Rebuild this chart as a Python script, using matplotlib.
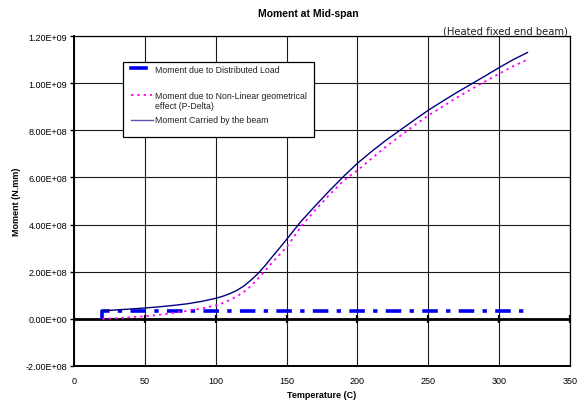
import numpy as np
import matplotlib
matplotlib.use("Agg")
import matplotlib.pyplot as plt
from matplotlib.lines import Line2D
from matplotlib.patches import Rectangle
from matplotlib.ticker import FuncFormatter, MultipleLocator

plt.rcParams['font.family'] = ['Liberation Sans', 'DejaVu Sans']

# Temperature steps (C)
temperature = [20, 30, 40, 50, 60, 70, 80, 90, 100, 105, 110, 115, 120, 125,
               130, 135, 140, 145, 150, 160, 170, 180, 190, 200, 210, 220,
               230, 240, 250, 260, 270, 280, 290, 300, 310, 320]

# Moment carried by the beam (N.mm)
moment_carried = [0.34e8, 0.38e8, 0.42e8, 0.46e8, 0.51e8, 0.57e8, 0.64e8,
                  0.74e8, 0.87e8, 0.96e8, 1.07e8, 1.21e8, 1.40e8, 1.65e8,
                  1.93e8, 2.27e8, 2.64e8, 3.00e8, 3.37e8, 4.12e8, 4.78e8,
                  5.42e8, 6.03e8, 6.60e8, 7.10e8, 7.57e8, 8.00e8, 8.43e8,
                  8.85e8, 9.23e8, 9.60e8, 9.95e8, 10.30e8, 10.66e8, 11.00e8,
                  11.30e8]

# P-Delta moment (N.mm)
moment_pdelta = [0.0, 0.03e8, 0.07e8, 0.11e8, 0.17e8, 0.25e8, 0.34e8,
                 0.44e8, 0.57e8, 0.67e8, 0.80e8, 0.96e8, 1.15e8, 1.40e8,
                 1.72e8, 2.05e8, 2.40e8, 2.72e8, 3.04e8, 3.90e8, 4.60e8,
                 5.25e8, 5.85e8, 6.30e8, 6.80e8, 7.30e8, 7.75e8, 8.20e8,
                 8.63e8, 9.00e8, 9.38e8, 9.73e8, 10.07e8, 10.40e8, 10.72e8,
                 11.00e8]

# Moment due to distributed load (constant once loaded)
load_temperature = [20, 20, 320]
moment_load = [0.0, 0.33e8, 0.33e8]

x_ticks = [0, 50, 100, 150, 200, 250, 300, 350]

W, H = 580, 406
fig = plt.figure(figsize=(W / 100, H / 100), dpi=100)
ax = fig.add_axes([74 / W, 1 - 367 / H, (570 - 74) / W, (367 - 37) / H])


def px(x, y):
    return x / W, 1 - y / H


ax.plot(load_temperature, moment_load, color='#0000ee', lw=2.6,
        dashes=(4.3, 2.3, 1.2, 2.3), solid_capstyle='butt',
        dash_capstyle='butt', zorder=4)
ax.plot(temperature, moment_pdelta, color='#ff00ff', lw=1.3,
        linestyle=(0, (1.3, 2.2)), zorder=4)
ax.plot(temperature, moment_carried, color='#000080', lw=1.0, zorder=5)

# zero line with tick marks
ax.axhline(0, color='black', lw=2.0, zorder=3)
ax.plot(x_ticks, [0] * len(x_ticks), linestyle='none', marker='|',
        markersize=6, mew=1.6, color='black', zorder=3)

ax.set_xlim(0, 350)
ax.set_ylim(-2e8, 1.2e9)
ax.xaxis.set_major_locator(MultipleLocator(50))
ax.yaxis.set_major_locator(MultipleLocator(2e8))
ax.yaxis.set_major_formatter(FuncFormatter(lambda v, p: f"{v:.2E}"))
ax.grid(True, color='#1a1a1a', lw=0.8)
ax.set_axisbelow(True)

ax.tick_params(axis='x', length=0, pad=7, labelsize=6.5, colors='black')
ax.tick_params(axis='y', length=3, width=1, direction='out', pad=2,
               labelsize=6.5, colors='black')
for s in ax.spines.values():
    s.set_color('black')
    s.set_linewidth(0.9)
ax.spines['left'].set_linewidth(1.4)
ax.spines['bottom'].set_linewidth(1.4)

ax.set_xlabel('Temperature (C)', fontsize=6.5, fontweight='bold', labelpad=4)
ax.set_ylabel('Moment (N.mm)', fontsize=6.5, fontweight='bold', labelpad=3)

fig.text(*px(308, 14), 'Moment at Mid-span', ha='center', va='center',
         fontsize=7.5, fontweight='bold')
fig.text(*px(568, 35), '(Heated fixed end beam)', ha='right', va='baseline',
         fontsize=7.2, family='DejaVu Sans', color='#222222')

# legend box
fig.add_artist(Rectangle(px(123, 138), (314 - 123) / W, (138 - 63) / H,
                         transform=fig.transFigure, facecolor='white',
                         edgecolor='black', lw=0.9, zorder=6))
entries = [
    ((131, 146), 69, dict(color='#0000ee', lw=2.6), 70.5,
     'Moment due to Distributed Load'),
    ((131, 152), 96, dict(color='#ff00ff', lw=1.3, linestyle=(0, (1.3, 2.2))),
     101.5, 'Moment due to Non-Linear geometrical\neffect (P-Delta)'),
    ((131, 153), 120.7, dict(color='#5555aa', lw=1.0), 120.7,
     'Moment Carried by the beam'),
]
for (x0, x1), ly, style, ty, label in entries:
    (fx0, fy), (fx1, _) = px(x0, ly), px(x1, ly)
    fig.add_artist(Line2D([fx0, fx1], [fy, fy], transform=fig.transFigure,
                          zorder=7, **style))
    fig.text(*px(155, ty), label, ha='left', va='center', fontsize=6.3,
             color='#222222', zorder=7, linespacing=1.25)

fig.savefig('out.png', dpi=100)
